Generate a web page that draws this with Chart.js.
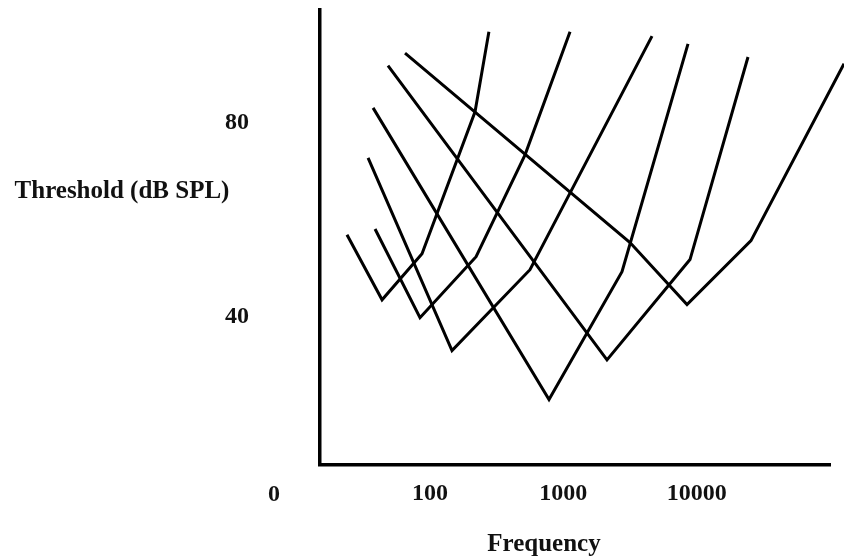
<!DOCTYPE html>
<html>
<head>
<meta charset="utf-8">
<title>Tuning curves</title>
<script src="https://cdn.jsdelivr.net/npm/chart.js@4/dist/chart.umd.min.js"></script>
<style>
  body { margin: 0; background: #fff; }
  canvas { display: block; }
</style>
</head>
<body>
<canvas id="myChart" width="844" height="560"></canvas>
<script>
// six tuning curves, corner points only: frequency (Hz) and threshold (dB SPL)
var freqA = [23.9, 43.8, 87.3, 218, 277];
var dbA   = [56.9, 43.5, 53.0, 82.3, 98.8];

var freqB = [38.8, 84.3, 222, 517, 1124];
var dbB   = [58.1, 39.8, 52.4, 73.4, 98.8];

var freqC = [34.4, 146.5, 563, 4629];
var dbC   = [72.8, 33.0, 49.7, 97.9];

var freqD = [37.5, 782, 2757, 8617];
var dbD   = [83.1, 22.9, 49.3, 96.3];

var freqE = [48.5, 2128, 8920, 24280];
var dbE   = [91.8, 31.1, 51.8, 93.6];

var freqF = [65.1, 3166, 8469, 25570, 127400];
var dbF   = [94.4, 55.3, 42.5, 55.7, 92.2];

var xTicks = [100, 1000, 10000];
var yTicks = [40, 80];

var serif = "'Liberation Serif', 'Times New Roman', serif";

function pairs(f, d) {
    return f.map(function(v, i) { return {x: v, y: d[i]}; });
}

var curves = [[freqA, dbA], [freqB, dbB], [freqC, dbC], [freqD, dbD], [freqE, dbE], [freqF, dbF]];

var datasets = curves.map(function(c) {
    return {
        data: pairs(c[0], c[1]),
        borderColor: '#000',
        borderWidth: 3,
        borderJoinStyle: 'miter',
        pointRadius: 0,
        tension: 0,
        fill: false,
        clip: false
    };
});

// axis titles and the lone origin label, drawn as plain text
var extraText = {
    id: 'extraText',
    afterDraw: function(chart) {
        var c = chart.ctx;
        c.save();
        c.fillStyle = '#111';
        c.textAlign = 'center';
        c.textBaseline = 'alphabetic';
        c.font = 'bold 25px ' + serif;
        c.fillText('Threshold (dB SPL)', 122, 198);
        c.fillText('Frequency', 544, 551);
        c.font = 'bold 24px ' + serif;
        c.fillText('0', 274, 501);
        c.restore();
    }
};

var tickFont = {family: serif, size: 24, weight: 'bold'};

var ctx = document.getElementById("myChart").getContext('2d');
var myChart = new Chart(ctx, {
    type: 'line',
    data: {datasets: datasets},
    options: {
        responsive: false,
        animation: false,
        events: [],
        layout: {padding: {top: 10, right: 14, left: 0, bottom: 0}},
        plugins: {
            legend: {display: false},
            tooltip: {enabled: false}
        },
        scales: {
            x: {
                type: 'logarithmic',
                min: 15,
                max: 100000,
                grid: {display: false},
                border: {display: true, color: '#000', width: 3.5},
                afterBuildTicks: function(s) {
                    s.ticks = xTicks.map(function(v) { return {value: v}; });
                },
                afterFit: function(s) { s.height = 95; },
                ticks: {
                    autoSkip: false,
                    maxRotation: 0,
                    padding: 6,
                    color: '#111',
                    font: tickFont,
                    callback: function(v) { return String(v); }
                }
            },
            y: {
                min: 9.4,
                max: 103.3,
                grid: {display: false},
                border: {display: true, color: '#000', width: 3.5},
                afterBuildTicks: function(s) {
                    s.ticks = yTicks.map(function(v) { return {value: v}; });
                },
                afterFit: function(s) {
                    // labels sit far from the axis; keep that gap out of the vertical padding
                    s.width = 320;
                    s.paddingTop = 0;
                    s.paddingBottom = 0;
                },
                ticks: {
                    padding: 63,
                    color: '#111',
                    font: tickFont,
                    callback: function(v) { return String(v); }
                }
            }
        }
    },
    plugins: [extraText]
});
</script>
</body>
</html>
